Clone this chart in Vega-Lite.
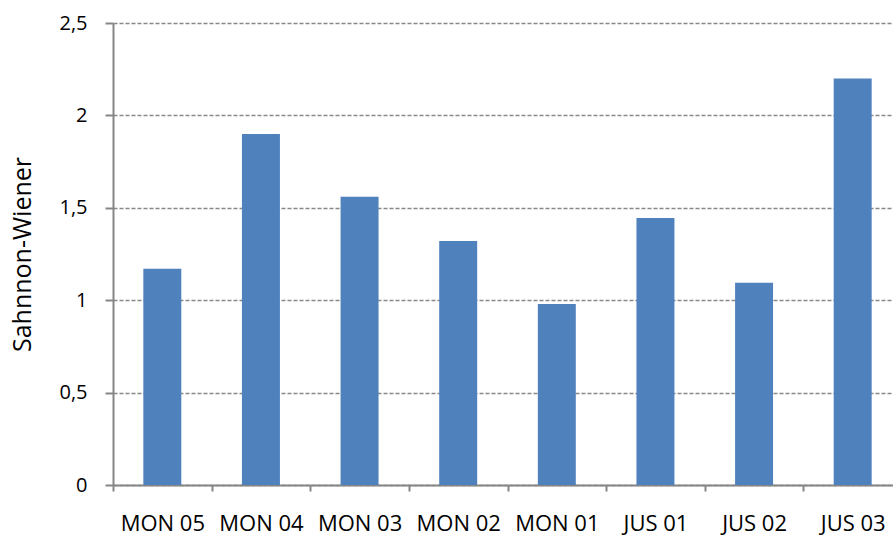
{
  "$schema": "https://vega.github.io/schema/vega-lite/v6.json",
  "autosize": "none",
  "padding": {"left": 113, "top": 23, "right": 0, "bottom": 52},
  "width": 789,
  "height": 462,
  "background": "white",
  "config": {
    "view": {"stroke": null},
    "font": "Open Sans"
  },
  "data": {
    "values": [
      {"site": "MON 05", "value": 1.17},
      {"site": "MON 04", "value": 1.9},
      {"site": "MON 03", "value": 1.56},
      {"site": "MON 02", "value": 1.32},
      {"site": "MON 01", "value": 0.98},
      {"site": "JUS 01", "value": 1.445},
      {"site": "JUS 02", "value": 1.095},
      {"site": "JUS 03", "value": 2.2}
    ]
  },
  "mark": {"type": "bar", "color": "#4f81bd", "width": {"band": 0.385}},
  "encoding": {
    "x": {
      "field": "site",
      "type": "nominal",
      "sort": null,
      "scale": {"paddingInner": 0, "paddingOuter": 0},
      "axis": {
        "title": null,
        "labelAngle": 0,
        "labelFontSize": 22,
        "labelColor": "#000000",
        "labelPadding": 22,
        "labelBaseline": "top",
        "labelLineHeight": 22,
        "domainColor": "#868686",
        "domainWidth": 2,
        "tickColor": "#868686",
        "tickWidth": 2,
        "tickSize": 6,
        "tickBand": "extent",
        "grid": false
      }
    },
    "y": {
      "field": "value",
      "type": "quantitative",
      "scale": {"domain": [0, 2.5], "nice": false},
      "axis": {
        "title": "Sahnnon-Wiener",
        "titleFontSize": 25,
        "titleFontWeight": "normal",
        "titleColor": "#000000",
        "titlePadding": 23,
        "values": [0, 0.5, 1, 1.5, 2, 2.5],
        "format": "~g",
        "labelExpr": "replace(datum.label, '.', ',')",
        "labelFontSize": 20,
        "labelColor": "#000000",
        "labelPadding": 18,
        "domainColor": "#868686",
        "domainWidth": 2,
        "tickColor": "#868686",
        "tickWidth": 2,
        "tickSize": 8,
        "grid": true,
        "gridColor": "#888888",
        "gridDash": [4, 2],
        "gridWidth": 1.4
      }
    }
  }
}
